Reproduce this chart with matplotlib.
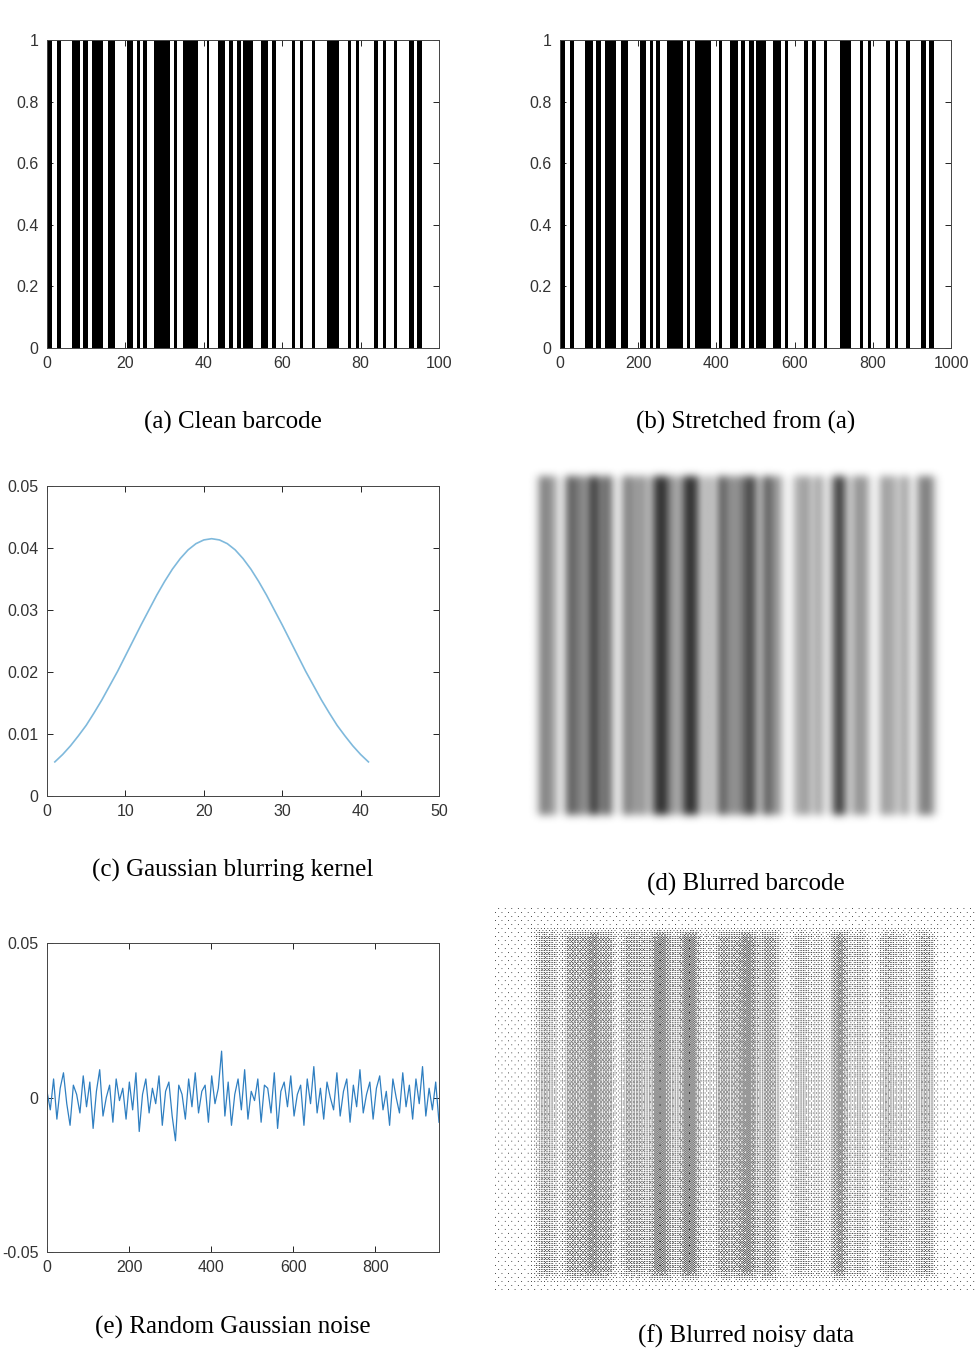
import numpy as np
import matplotlib
matplotlib.use("Agg")
import matplotlib.pyplot as plt

# ---- data ----
bar_starts = [0, 2.5, 6.5, 9.3, 11.6, 15.5, 20.5, 22.9, 24.6, 27.4, 32.5, 34.6, 40.7, 43.5, 46.4, 48.4,
              50.0, 54.5, 57.5, 62.4, 64.5, 67.5, 71.5, 76.7, 78.7, 83.5, 85.6, 88.5, 92.4, 94.5]
bar_ends = [1.4, 3.5, 8.4, 10.5, 14.4, 17.3, 21.9, 23.7, 25.6, 31.4, 33.2, 38.6, 41.4, 45.4, 47.4, 49.5,
            52.6, 56.5, 58.4, 63.3, 65.4, 68.4, 74.5, 77.6, 79.6, 84.5, 86.5, 89.4, 93.6, 95.6]
kernel_x = list(range(1, 42))
kernel_half = [0.0415, 0.0413, 0.0407, 0.0397, 0.0383, 0.0366, 0.0346, 0.0324, 0.0300, 0.0276, 0.0251,
               0.0226, 0.0201, 0.0178, 0.0155, 0.0134, 0.0114, 0.0097, 0.0081, 0.0067, 0.0055]
kernel_y = kernel_half[::-1] + kernel_half[1:]
noise_y = [0.002, -0.004, 0.006, -0.007, 0.003, 0.008, -0.002, -0.009, 0.004, 0.001, -0.005, 0.007, -0.003,
           0.005, -0.010, 0.002, 0.009, -0.006, 0.000, 0.004, -0.008, 0.006, -0.001, 0.003, -0.007, 0.005,
           -0.004, 0.008, -0.011, 0.001, 0.006, -0.005, 0.003, -0.002, 0.007, -0.009, 0.002, 0.005, -0.006,
           -0.014, 0.004, 0.001, -0.007, 0.006, -0.003, 0.008, -0.005, 0.002, 0.004, -0.008, 0.007, -0.002,
           0.003, 0.015, -0.006, 0.005, -0.009, 0.001, 0.006, -0.004, 0.009, -0.007, 0.002, -0.001, 0.006,
           -0.008, 0.004, 0.003, -0.005, 0.008, -0.010, 0.002, 0.005, -0.003, 0.007, -0.006, 0.001, 0.004,
           -0.009, 0.006, -0.002, 0.010, -0.005, 0.003, -0.007, 0.005, 0.000, -0.004, 0.008, -0.006, 0.002,
           0.006, -0.008, 0.004, -0.003, 0.009, -0.005, 0.001, 0.005, -0.007, 0.003, 0.007, -0.004, 0.002,
           -0.009, 0.006, 0.000, -0.005, 0.008, -0.003, 0.004, -0.007, 0.006, -0.002, 0.010, -0.006, 0.003,
           -0.004, 0.005, -0.008]
noise_x = np.linspace(0, 955, len(noise_y))

plt.rcParams['font.family'] = 'Liberation Sans'
fig = plt.figure(figsize=(9.8, 13.69), dpi=100)
W, H = 980, 1369
def ax_px(l, t, r, b):
    return fig.add_axes([l / W, 1 - b / H, (r - l) / W, (b - t) / H])

def matlab_style(ax):
    ax.tick_params(direction='in', top=True, right=True, labelsize=11.5, length=4, width=0.6, pad=6,
                   labelcolor='#333333')
    for s in ax.spines.values():
        s.set_linewidth(0.7)
        s.set_color('#444444')

# (a)
ax = ax_px(47, 40, 439, 348)
for s, e in zip(bar_starts, bar_ends):
    ax.bar(s, 1, width=e - s, align='edge', color='black')
ax.set_xlim(0, 100); ax.set_ylim(0, 1)
ax.set_yticks([0, 0.2, 0.4, 0.6, 0.8, 1]); ax.set_yticklabels(['0', '0.2', '0.4', '0.6', '0.8', '1'])
ax.set_xticks([0, 20, 40, 60, 80, 100])
matlab_style(ax)

# (b)
ax = ax_px(560, 40, 951, 348)
for s, e in zip(bar_starts, bar_ends):
    ax.bar(s * 10, 1, width=(e - s) * 10, align='edge', color='black')
ax.set_xlim(0, 1000); ax.set_ylim(0, 1)
ax.set_yticks([0, 0.2, 0.4, 0.6, 0.8, 1]); ax.set_yticklabels(['0', '0.2', '0.4', '0.6', '0.8', '1'])
ax.set_xticks([0, 200, 400, 600, 800, 1000])
matlab_style(ax)

# (c)
ax = ax_px(47, 486, 439, 796)
ax.plot(kernel_x, kernel_y, color='#7fb9dc', lw=1.2)
ax.set_xlim(0, 50); ax.set_ylim(0, 0.05)
ax.set_yticks([0, 0.01, 0.02, 0.03, 0.04, 0.05]); ax.set_yticklabels(['0', '0.01', '0.02', '0.03', '0.04', '0.05'])
ax.set_xticks([0, 10, 20, 30, 40, 50])
matlab_style(ax)

# (e)
ax = ax_px(47, 943, 439, 1252)
ax.plot(noise_x, noise_y, color='#2f7fc1', lw=0.9)
ax.set_xlim(0, 955); ax.set_ylim(-0.05, 0.05)
ax.set_yticks([-0.05, 0, 0.05]); ax.set_yticklabels(['-0.05', '0', '0.05'])
ax.set_xticks([0, 200, 400, 600, 800])
matlab_style(ax)

# blurred images
def gk(sig):
    r = int(3 * sig)
    t = np.arange(-r, r + 1)
    k = np.exp(-t ** 2 / (2 * sig ** 2))
    return k / k.sum()

def blurred(x0, x1, nrow, top, bot, sigx, sigy):
    xs = np.arange(x0, x1, 2.0)
    row = np.zeros_like(xs)
    for s, e in zip(bar_starts, bar_ends):
        row[(xs >= s * 10) & (xs < e * 10)] = 1
    img = np.zeros((nrow, len(xs)))
    img[top:bot, :] = row
    kx = gk(sigx); ky = gk(sigy)
    img = np.apply_along_axis(lambda r: np.convolve(r, kx, mode='same'), 1, img)
    img = np.apply_along_axis(lambda c: np.convolve(c, ky, mode='same'), 0, img)
    return img

# (d)
ax = ax_px(525, 465, 965, 830)
img = blurred(-37, 1037, 365, 12, 350, 6, 4)
ax.imshow(1 - 0.85 * img, cmap='gray', vmin=0, vmax=1, aspect='auto', interpolation='bilinear')
ax.axis('off')

# (f)
ax = ax_px(495, 905, 975, 1292)
img = blurred(-110, 1061, 387, 28, 372, 6, 4)
val = 0.03 + 0.55 * img
b = np.array([[0, 32, 8, 40, 2, 34, 10, 42], [48, 16, 56, 24, 50, 18, 58, 26],
              [12, 44, 4, 36, 14, 46, 6, 38], [60, 28, 52, 20, 62, 30, 54, 22],
              [3, 35, 11, 43, 1, 33, 9, 41], [51, 19, 59, 27, 49, 17, 57, 25],
              [15, 47, 7, 39, 13, 45, 5, 37], [63, 31, 55, 23, 61, 29, 53, 21]]) / 64.0
tile = np.tile(b, (val.shape[0] // 8 + 1, val.shape[1] // 8 + 1))[:val.shape[0], :val.shape[1]]
dots = (val > tile).astype(float)
ax.imshow(1 - 0.8 * dots, cmap='gray', vmin=0, vmax=1, aspect='auto', interpolation='antialiased')
ax.axis('off')

cap = dict(fontsize=18, family='Liberation Serif', ha='center', va='center')
fig.text(233 / W, 1 - 422 / H, '(a) Clean barcode', **cap)
fig.text(746 / W, 1 - 422 / H, '(b) Stretched from (a)', **cap)
fig.text(233 / W, 1 - 870 / H, '(c) Gaussian blurring kernel', **cap)
fig.text(746 / W, 1 - 884 / H, '(d) Blurred barcode', **cap)
fig.text(233 / W, 1 - 1327 / H, '(e) Random Gaussian noise', **cap)
fig.text(746 / W, 1 - 1336 / H, '(f) Blurred noisy data', **cap)

fig.savefig('out.png', dpi=100)
